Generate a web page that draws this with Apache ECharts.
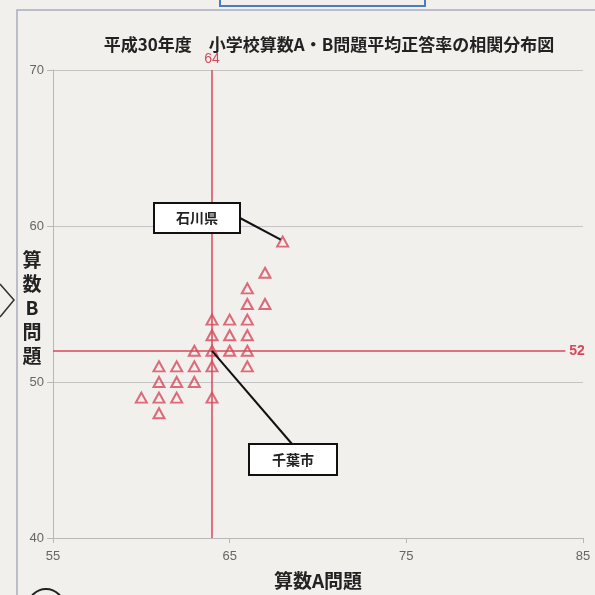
<!DOCTYPE html>
<html>
<head>
<meta charset="utf-8">
<script src="https://cdn.jsdelivr.net/npm/echarts@6/dist/echarts.min.js"></script>
<style>
  html, body { margin: 0; padding: 0; background: #f1f0ed; }
  #chart { width: 595px; height: 595px; }
</style>
</head>
<body>
<div id="chart"></div>
<script>
// ============ Data ============
// 算数A問題 (x) / 算数B問題 (y) 平均正答率
const scoreA = [68, 67, 66, 66, 67, 64, 65, 66, 64, 65, 66, 63, 64, 65, 66, 61, 62, 63, 64, 66, 61, 62, 63, 60, 61, 62, 64, 61]
const scoreB = [59, 57, 56, 55, 55, 54, 54, 54, 53, 53, 53, 52, 52, 52, 52, 51, 51, 51, 51, 51, 50, 50, 50, 49, 49, 49, 49, 48]
const avgA = 64
const avgB = 52
const xTicks = [55, 65, 75, 85]
const yTicks = [40, 50, 60, 70]
const ishikawa = [68, 59]
const chiba = [64, 52]

const RED = '#d8485a'
const JP = '"Noto Sans CJK JP", sans-serif'

const chart = echarts.init(document.getElementById('chart'))

chart.setOption({
  backgroundColor: '#f1f0ed',
  animation: false,
  title: {
    text: '平成30年度　小学校算数A・B問題平均正答率の相関分布図',
    left: 324,
    top: 31,
    textAlign: 'center',
    textStyle: { fontFamily: JP, fontSize: 17, fontWeight: 'bold', color: '#222' },
  },
  grid: { left: 53, right: 12, top: 70, bottom: 49 },
  xAxis: {
    type: 'value',
    min: xTicks[0],
    max: xTicks[xTicks.length - 1],
    interval: 10,
    name: '算数A問題',
    nameLocation: 'middle',
    nameGap: 33,
    nameTextStyle: { fontFamily: JP, fontSize: 19, fontWeight: 'bold', color: '#222' },
    axisLine: { lineStyle: { color: '#b8b8b8', width: 1 } },
    axisTick: { show: true, length: 5, lineStyle: { color: '#b8b8b8' } },
    axisLabel: { color: '#666', fontSize: 13, fontFamily: 'Liberation Sans', margin: 12 },
    splitLine: { show: false },
  },
  yAxis: {
    type: 'value',
    min: yTicks[0],
    max: yTicks[yTicks.length - 1],
    interval: 10,
    axisLine: { show: true, lineStyle: { color: '#b8b8b8', width: 1 } },
    axisTick: { show: true, length: 6, lineStyle: { color: '#b8b8b8' } },
    axisLabel: { color: '#666', fontSize: 13, fontFamily: 'Liberation Sans', margin: 9 },
    splitLine: { lineStyle: { color: '#c4c4c4', width: 1 } },
  },
  series: [
    {
      type: 'scatter',
      data: scoreA.map((a, i) => [a, scoreB[i]]),
      symbol: 'triangle',
      symbolSize: [11, 10],
      itemStyle: { color: 'rgba(0,0,0,0)', borderColor: RED, borderWidth: 2 },
      markLine: {
        silent: true,
        symbol: 'none',
        lineStyle: { color: RED, width: 1.5, type: 'solid' },
        data: [
          {
            xAxis: avgA,
            label: { show: true, position: 'end', formatter: String(avgA), color: RED, fontSize: 14, distance: 4 },
          },
          [
            { coord: [xTicks[0], avgB] },
            {
              coord: [84, avgB],
              label: { show: true, position: 'end', formatter: String(avgB), color: RED, fontSize: 14, fontWeight: 'bold', distance: 4 },
            },
          ],
        ],
      },
    },
  ],
})

// ============ Callouts & page fragments ============
const pI = chart.convertToPixel({ gridIndex: 0 }, ishikawa)
const pC = chart.convertToPixel({ gridIndex: 0 }, chiba)

function callout(box, label, from, to) {
  return [
    {
      type: 'line',
      shape: { x1: from[0], y1: from[1], x2: to[0], y2: to[1] },
      style: { stroke: '#111', lineWidth: 2 },
      z: 10,
    },
    {
      type: 'rect',
      shape: box,
      style: { fill: '#fff', stroke: '#111', lineWidth: 2 },
      z: 11,
    },
    {
      type: 'text',
      x: box.x + box.width / 2,
      y: box.y + box.height / 2,
      style: {
        text: label,
        fill: '#222',
        font: 'bold 14px "Noto Sans CJK JP"',
        align: 'center',
        verticalAlign: 'middle',
      },
      z: 12,
    },
  ]
}

const ishiBox = { x: 154, y: 203, width: 86, height: 30 }
const chibaBox = { x: 249, y: 444, width: 88, height: 31 }

chart.setOption({
  graphic: [
    // outer frame of the scanned page
    {
      type: 'polyline',
      shape: { points: [[17, 600], [17, 10], [600, 10]] },
      style: { stroke: '#a9acbf', lineWidth: 1.5, fill: null },
    },
    {
      type: 'rect',
      shape: { x: 220, y: -10, width: 205, height: 16 },
      style: { stroke: '#4a7cc0', lineWidth: 2, fill: null },
    },
    {
      type: 'polyline',
      shape: { points: [[0, 284], [14, 300], [0, 317]] },
      style: { stroke: '#333', lineWidth: 1.5, fill: null },
    },
    {
      type: 'circle',
      shape: { cx: 46, cy: 607, r: 18 },
      style: { stroke: '#222', lineWidth: 2, fill: null },
    },
    // y-axis title, stacked upright
    {
      type: 'text',
      x: 32,
      y: 308,
      style: {
        text: '算\n数\nB\n問\n題',
        fill: '#222',
        font: 'bold 19px "Noto Sans CJK JP"',
        lineHeight: 24,
        align: 'center',
        verticalAlign: 'middle',
      },
    },
    ...callout(ishiBox, '石川県', [ishiBox.x + ishiBox.width, 218], [pI[0] - 2, pI[1] - 2]),
    ...callout(chibaBox, '千葉市', [pC[0], pC[1]], [292, chibaBox.y]),
  ],
})
</script>
</body>
</html>
